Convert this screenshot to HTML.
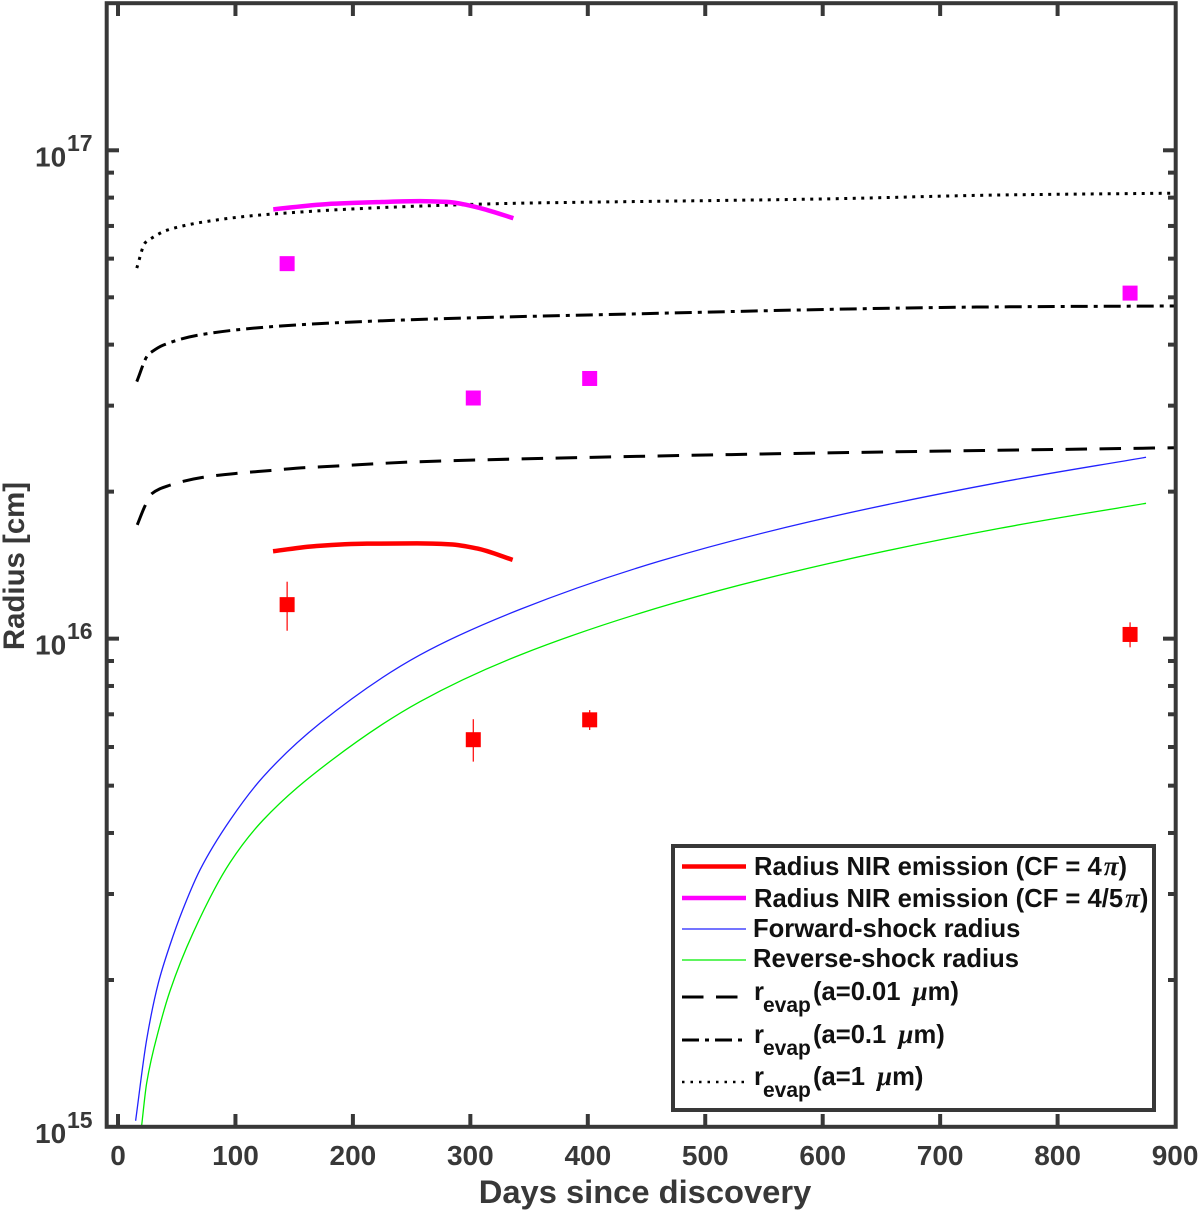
<!DOCTYPE html>
<html>
<head>
<meta charset="utf-8">
<title>Radius vs days since discovery</title>
<style>
html,body{margin:0;padding:0;background:#fff;width:1200px;height:1211px;overflow:hidden}
svg{display:block}
text{font-family:"Liberation Sans",sans-serif;font-weight:bold}
.tick{fill:#383838;font-size:28px}
.sup{fill:#383838;font-size:23px}
.leg{fill:#111;font-size:25.6px}
.sub{fill:#111;font-size:21px}
.greek{font-family:"Liberation Serif",serif;font-style:italic;font-weight:bold;font-size:27px}
</style>
</head>
<body>
<svg id="chart" xmlns="http://www.w3.org/2000/svg" width="1200" height="1211" viewBox="0 0 1200 1211">
  <defs><clipPath id="plot-clip"><rect x="107" y="3" width="1069" height="1124"/></clipPath></defs>
  <rect x="0" y="0" width="1200" height="1211" fill="#fff"/>
  <g id="series" clip-path="url(#plot-clip)"></g>
  <g id="ticks"></g>
  <rect x="106.7" y="3.2" width="1069" height="1123.6" fill="none" stroke="#383838" stroke-width="4"/>
  <text x="645" y="1203" text-anchor="middle" style="font-size:32.7px;fill:#383838">Days since discovery</text>
  <text transform="translate(24,566) rotate(-90)" text-anchor="middle" style="font-size:29.4px;fill:#383838">Radius [cm]</text>

  <g>
    <rect x="673" y="846" width="481" height="264" fill="#fff" stroke="#383838" stroke-width="4"/>
    <g>
      <line x1="682" x2="746" y1="866.5" y2="866.5" stroke="#f00" stroke-width="4.5"/>
      <text class="leg" x="754" y="875">Radius NIR emission (CF = 4<tspan class="greek" dx="2">π</tspan>)</text>
    </g>
    <g>
      <line x1="682" x2="746" y1="898" y2="898" stroke="#f0f" stroke-width="4.5"/>
      <text class="leg" x="754" y="907">Radius NIR emission (CF = 4/5<tspan class="greek" dx="2">π</tspan>)</text>
    </g>
    <g>
      <line x1="682" x2="746" y1="929" y2="929" stroke="#22f" stroke-width="1.3"/>
      <text class="leg" x="753" y="937">Forward-shock radius</text>
    </g>
    <g>
      <line x1="682" x2="746" y1="960" y2="960" stroke="#0e0" stroke-width="1.3"/>
      <text class="leg" x="753" y="967">Reverse-shock radius</text>
    </g>
    <g>
      <line x1="682" x2="746" y1="997" y2="997" stroke="#000" stroke-width="3" stroke-dasharray="21.5 12.5"/>
      <text class="leg" x="754" y="1000">r</text><text class="sub" x="763" y="1012">evap</text>
      <text class="leg" x="813" y="1000">(a=0.01 <tspan class="greek" dx="5">μ</tspan>m)</text>
    </g>
    <g>
      <line x1="682" x2="746" y1="1040" y2="1040" stroke="#000" stroke-width="3" stroke-dasharray="17 6 4 6"/>
      <text class="leg" x="754" y="1043">r</text><text class="sub" x="763" y="1055">evap</text>
      <text class="leg" x="813" y="1043">(a=0.1 <tspan class="greek" dx="5">μ</tspan>m)</text>
    </g>
    <g>
      <line x1="682" x2="746" y1="1082" y2="1082" stroke="#000" stroke-width="2.5" stroke-dasharray="2.5 6"/>
      <text class="leg" x="754" y="1085">r</text><text class="sub" x="763" y="1097">evap</text>
      <text class="leg" x="813" y="1085">(a=1 <tspan class="greek" dx="5">μ</tspan>m)</text>
    </g>
  </g>
</svg>
<script>
// Values: days since discovery; radius in units of 1e15 cm
var xTickValues = [0,100,200,300,400,500,600,700,800,900];
var yDecades = [15,16,17];
var forwardDays = [15,24.4,34.3,44.3,55,69.8,95.4,123.5,172,257.1,342.3,461.5,589.2,751,875.3];
var forwardRadius = [1.03,1.51,1.97,2.36,2.78,3.36,4.25,5.21,6.71,9.26,11.48,14.42,17.36,20.9,23.52];
var reverseDays = [20,24.4,35.2,44.3,64,95.4,123.5,182,257.1,342.3,475.7,603.4,751,875.3];
var reverseRadius = [1.0,1.23,1.60,1.9,2.5,3.48,4.25,5.64,7.43,9.26,11.87,14.22,16.83,18.93];
var evap001Days = [16.4,23,28.7,43.7,72.6,101,130,159.3,176,250,400,600,900];
var evap001Radius = [17.1,18.7,19.8,20.6,21.4,21.8,22.1,22.4,22.5,23.0,23.5,24.0,24.6];
var evap01Days = [16,25.5,29,38.5,70,140,240,400,751,900];
var evap01Radius = [33.6,38.1,38.7,39.9,41.9,43.7,44.9,46.0,47.8,48.0];
var evap1Days = [16,23,28.7,41.7,84,121,240,351,400,600,751,900];
var evap1Radius = [57.4,64.6,66.1,68.6,72.0,73.7,76.6,78.0,78.3,79.5,81.0,81.7];
var magentaDays = [132.2,177.8,220.4,257.1,280,297,314,336.6];
var magentaRadius = [75.7,77.6,78.3,78.7,78.4,77.3,75.5,72.6];
var redDays = [132,169,212,254.6,283,305.7,336];
var redRadius = [15.1,15.48,15.65,15.67,15.6,15.3,14.5];
var obsDays = [144,302.5,401.6,861.7];
var obsRed = [11.74,6.21,6.82,10.2];
var obsRedHigh = [13.08,6.84,7.14,10.8];
var obsRedLow = [10.38,5.60,6.50,9.6];
var obsMagenta = [58.6,31.1,34.1,51.0];

var NS = 'http://www.w3.org/2000/svg';
var seriesGroup = document.getElementById('series');
var tickGroup = document.getElementById('ticks');

function xScale(d){ return 118 + d * 1.1745; }
function yScale(r){ return 1127 - Math.log10(r) * 488.35; }
function yScaleExp(e){ return 1127 - (e - 15) * 488.35; }

function make(tag, attrs, parent){
  var el = document.createElementNS(NS, tag);
  for (var k in attrs) el.setAttribute(k, attrs[k]);
  parent.appendChild(el);
  return el;
}

// Monotone cubic path through the scaled data so curves stay smooth
function smoothPath(xs, ys){
  var n = xs.length, s = [], m = [], i;
  for (i = 0; i < n - 1; i++) s.push((ys[i+1] - ys[i]) / (xs[i+1] - xs[i]));
  m.push(s[0]);
  for (i = 1; i < n - 1; i++) {
    if (s[i-1] * s[i] <= 0) { m.push(0); }
    else {
      var h0 = xs[i] - xs[i-1], h1 = xs[i+1] - xs[i];
      var w1 = 2 * h1 + h0, w2 = h1 + 2 * h0;
      m.push((w1 + w2) / (w1 / s[i-1] + w2 / s[i]));
    }
  }
  m.push(s[n-2]);
  var d = 'M' + xs[0].toFixed(2) + ' ' + ys[0].toFixed(2);
  for (i = 0; i < n - 1; i++) {
    var h = (xs[i+1] - xs[i]) / 3;
    d += ' C' + (xs[i] + h).toFixed(2) + ' ' + (ys[i] + m[i] * h).toFixed(2) + ' ' +
         (xs[i+1] - h).toFixed(2) + ' ' + (ys[i+1] - m[i+1] * h).toFixed(2) + ' ' +
         xs[i+1].toFixed(2) + ' ' + ys[i+1].toFixed(2);
  }
  return d;
}

function drawLine(days, radii, stroke, width, dash){
  var d = smoothPath(days.map(xScale), radii.map(yScale));
  var el = make('path', {d:d, fill:'none', stroke:stroke, 'stroke-width':width, 'stroke-linejoin':'round'}, seriesGroup);
  if (dash) el.setAttribute('stroke-dasharray', dash);
  return el;
}

var l;
l = drawLine(forwardDays, forwardRadius, '#22f', 1.3);


l = drawLine(reverseDays, reverseRadius, '#0e0', 1.3);


l = drawLine(evap001Days, evap001Radius, '#000', 3, '21.5 12.5');


l = drawLine(evap01Days, evap01Radius, '#000', 3, '17 6 4 6');


l = drawLine(evap1Days, evap1Radius, '#000', 3, '3 5.5');


l = drawLine(magentaDays, magentaRadius, '#f0f', 4.5);


l = drawLine(redDays, redRadius, '#f00', 4.5);



obsDays.forEach(function(d,i){
  var x = xScale(d);
  var bar = make('line', {x1:x, x2:x, y1:yScale(obsRedHigh[i]), y2:yScale(obsRedLow[i]), stroke:'#f00', 'stroke-width':1.2}, seriesGroup);
  
  
  var s1 = make('rect', {x:x-7.5, y:yScale(obsRed[i])-7.5, width:15, height:15, fill:'#f00'}, seriesGroup);
  
  
  var s2 = make('rect', {x:x-7.5, y:yScale(obsMagenta[i])-7.5, width:15, height:15, fill:'#f0f'}, seriesGroup);
  
  
});

xTickValues.forEach(function(v){
  var x = xScale(v);
  if (v < 900) {
    var b = make('line', {x1:x, x2:x, y1:1127, y2:1114, stroke:'#383838', 'stroke-width':4}, tickGroup);
    
    
    var t = make('line', {x1:x, x2:x, y1:3, y2:16, stroke:'#383838', 'stroke-width':4}, tickGroup);
    
    
  }
  var lab = make('text', {x:x, y:1165, 'text-anchor':'middle', 'class':'tick'}, tickGroup);
  
  
  lab.textContent = String(v);
});

yDecades.forEach(function(e){
  var y = yScaleExp(e);
  if (e > 15) {
    var maj1 = make('line', {x1:107, x2:119, y1:y, y2:y, stroke:'#383838', 'stroke-width':4}, tickGroup);
    
    
    var maj2 = make('line', {x1:1163, x2:1175, y1:y, y2:y, stroke:'#383838', 'stroke-width':4}, tickGroup);
    
    
  }
  var base = make('text', {x:35, y:(e === 15 ? 1143 : y + 16), 'class':'tick'}, tickGroup);
  
  
  base.textContent = '10';
  var exp = make('text', {x:67, y:(e === 15 ? 1128 : y + 0.5), 'class':'sup'}, tickGroup);
  
  
  exp.textContent = String(e);
  if (e < 17) {
    for (var m = 2; m <= 9; m++) {
      var ym = yScaleExp(e + Math.log10(m));
      var n1 = make('line', {x1:107, x2:114, y1:ym, y2:ym, stroke:'#383838', 'stroke-width':4}, tickGroup);
      
      
      var n2 = make('line', {x1:1168, x2:1175, y1:ym, y2:ym, stroke:'#383838', 'stroke-width':4}, tickGroup);
      
      
    }
  }
});
</script>
</body>
</html>
